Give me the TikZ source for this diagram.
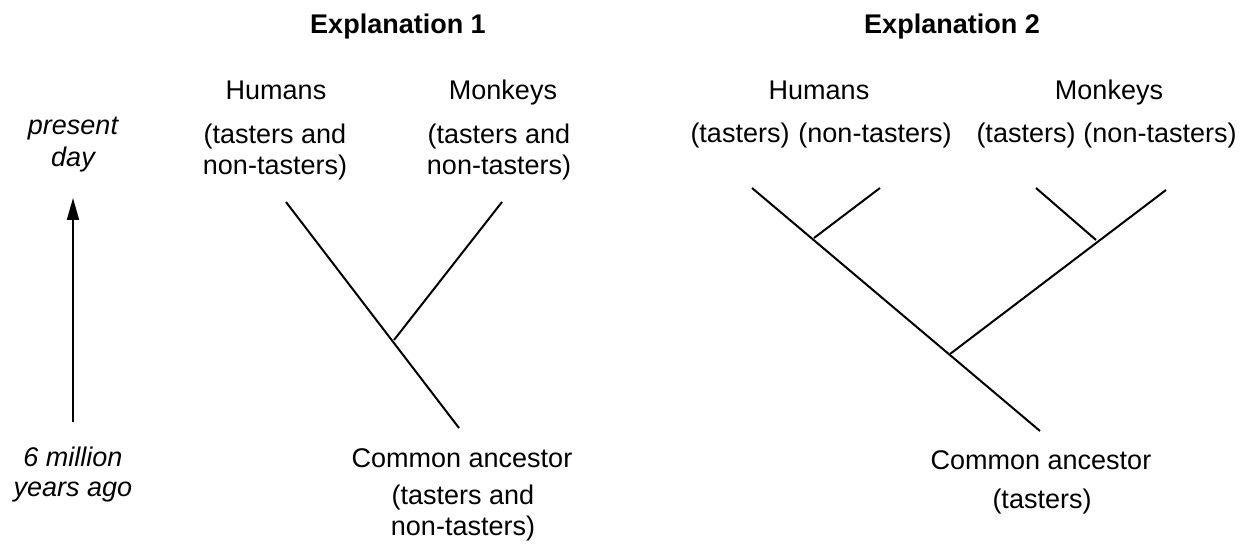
\documentclass[tikz,border=0pt]{standalone}
\usepackage{fontspec}
\setmainfont{Liberation Sans}
\usetikzlibrary{arrows.meta}

\begin{document}
\begin{tikzpicture}[x=0.5pt, y=0.5pt,
    lbl/.style={font=\fontsize{13.5}{15.5}\selectfont, anchor=base, inner sep=0pt},
    ttl/.style={lbl, font=\fontsize{13.5}{15.5}\selectfont\bfseries},
    tme/.style={lbl, font=\fontsize{13.5}{15.5}\selectfont\itshape},
    branch/.style={line width=1pt}]
\useasboundingbox (0,0) rectangle (1248,-544);
\node[ttl] (ex1) at (398, -34) {Explanation 1};
\node[ttl] (ex2) at (952, -34) {Explanation 2};
% time axis
\node[tme] (presa) at (73, -135) {present};
\node[tme] (presb) at (73, -167) {day};
\node[tme] (pasta) at (73, -467) {6 million};
\node[tme] (pastb) at (73, -497) {years ago};
\coordinate (tbot) at (73, -422);
\coordinate (ttop) at (73, -198);
\draw[line width=1pt, -{Triangle[length=11pt, width=6pt]}] (tbot) -- (ttop);
% explanation 1
\node[lbl] (huma) at (276, -100) {Humans};
\node[lbl] (humb) at (275, -144) {(tasters and};
\node[lbl] (humc) at (275, -175) {non-tasters)};
\node[lbl] (mona) at (503, -100) {Monkeys};
\node[lbl] (monb) at (499, -144) {(tasters and};
\node[lbl] (monc) at (499, -175) {non-tasters)};
\node[lbl] (anca) at (462, -468) {Common ancestor};
\node[lbl] (ancb) at (463, -505) {(tasters and};
\node[lbl] (ancc) at (463, -536) {non-tasters)};
\coordinate (ahum) at (286, -202);
\coordinate (amon) at (502, -202);
\coordinate (asplit) at (394, -340);
\coordinate (aroot) at (459, -428);
% explanation 2
\node[lbl] (humx) at (819, -100) {Humans};
\node[lbl] (monx) at (1109, -100) {Monkeys};
\node[lbl] (humt) at (740, -143) {(tasters)};
\node[lbl] (humn) at (875, -143) {(non-tasters)};
\node[lbl] (mont) at (1026, -143) {(tasters)};
\node[lbl] (monn) at (1160, -143) {(non-tasters)};
\node[lbl] (ancx) at (1041, -470) {Common ancestor};
\node[lbl] (ancy) at (1042, -509) {(tasters)};
\coordinate (bhumt) at (752, -188);
\coordinate (bhumn) at (880, -188);
\coordinate (bhsplit) at (814, -238);
\coordinate (bmont) at (1036, -188);
\coordinate (bmonn) at (1166, -190);
\coordinate (bmsplit) at (1096, -240);
\coordinate (bsplit) at (950, -354);
\coordinate (broot) at (1040, -431);
\foreach \from/\to in {ahum/aroot, asplit/amon, bhumt/broot, bhsplit/bhumn,
                       bsplit/bmonn, bmsplit/bmont} {
  \draw[branch] (\from) -- (\to);
}
\end{tikzpicture}
\end{document}
